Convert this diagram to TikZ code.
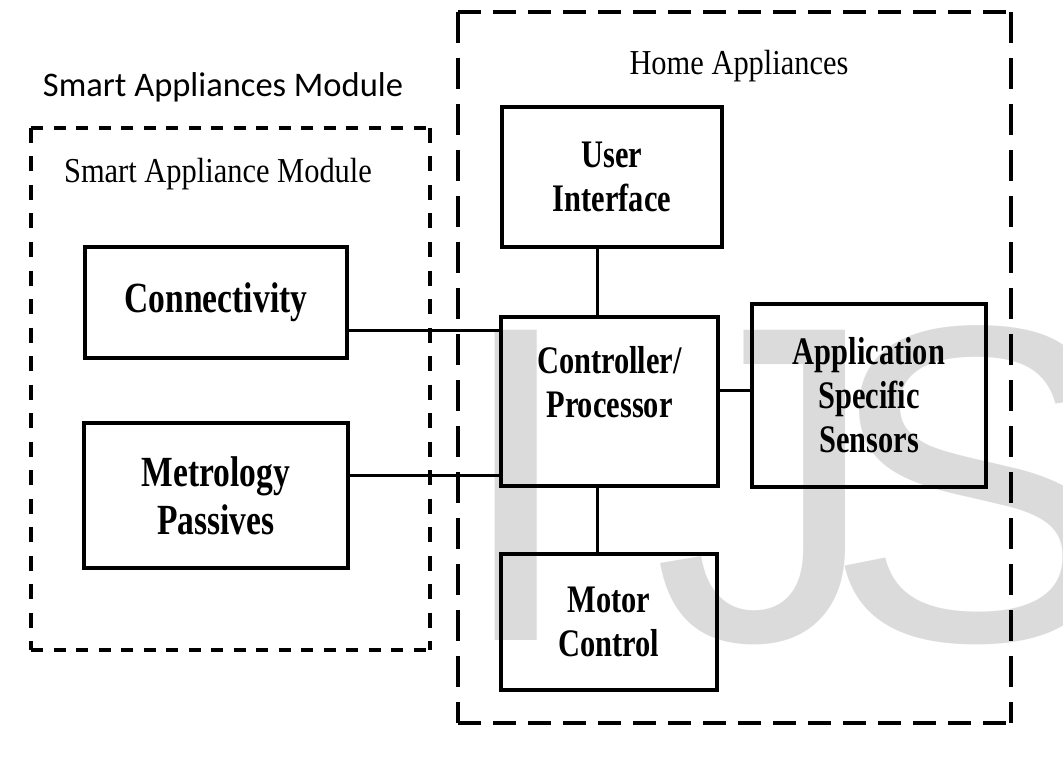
\documentclass[tikz,border=0pt]{standalone}
\usepackage{fontspec}
\usetikzlibrary{positioning}
\newfontfamily\labelfont{Liberation Serif}[FakeStretch=0.87]
\newfontfamily\boxfont{Liberation Serif}[FakeStretch=0.78]
\newfontfamily\titlefont{Carlito}
\newfontfamily\markfont{Liberation Sans}
\definecolor{markgray}{gray}{0.86}

\def\bigtxt{\fontsize{43}{48}\selectfont}
\def\midtxt{\fontsize{39}{44}\selectfont}

\tikzstyle{cbox}   = [draw, line width=3.5pt, inner sep=0pt, align=center, font=\boxfont\bfseries\midtxt]
\tikzstyle{cbig}   = [cbox, font=\boxfont\bfseries\bigtxt]
\tikzstyle{ctext}  = [inner sep=0pt, align=center, font=\boxfont\bfseries\midtxt]
\tikzstyle{clabel} = [inner sep=0pt, font=\labelfont\fontsize{35}{40}\selectfont]
\tikzstyle{cframe} = [inner sep=0pt, outer sep=0pt]
\tikzstyle{cline}  = [line width=3pt]
\tikzstyle{lefth}  = [line width=4pt, dash pattern=on 12pt off 10.5pt]
\tikzstyle{leftv}  = [line width=4pt, dash pattern=on 15pt off 13.5pt]
\tikzstyle{righth} = [line width=4pt, dash pattern=on 23pt off 12pt]
\tikzstyle{rightv} = [line width=4pt, dash pattern=on 31pt off 15pt]

\begin{document}
\begin{tikzpicture}[x=1pt, y=-1pt]
    \useasboundingbox (0,0) rectangle (1063,762);
    \clip (0,0) rectangle (1063,762);
    \node[inner sep=0pt, anchor=base west, text=markgray, font=\markfont\fontsize{451}{451}\selectfont] (mark) at (453,640) {I\kern75pt J\kern-55pt S};

    \node[cframe, minimum width=399pt, minimum height=522pt] (smod) at (230.5,389) {};
    \node[cframe, minimum width=553pt, minimum height=711pt] (home) at (734.5,367.5) {};
    \draw[lefth]  (smod.north west) -- (smod.north east) (smod.south west) -- (smod.south east);
    \draw[leftv]  (smod.north west) -- (smod.south west) (smod.north east) -- (smod.south east);
    \draw[righth] (home.north west) -- (home.north east) (home.south west) -- (home.south east);
    \draw[rightv] (home.north west) -- (home.south west) (home.north east) -- (home.south east);

    \node[inner sep=0pt, anchor=base, font=\titlefont\fontsize{34.5}{40}\selectfont] (title) at (223,97) {Smart Appliances Module};
    \node[clabel, anchor=base] (smodlbl) at (218,183) {Smart Appliance Module};
    \node[clabel, anchor=base] (homelbl) at (739,75) {Home Appliances};

    \node[cbig, minimum width=262pt, minimum height=111pt] (conn) at (216,302.5) {Connectivity};
    \node[cbig, minimum width=264pt, minimum height=145pt] (met) at (216,495.5) {Metrology\\Passives};
    \node[cbox, minimum width=220pt, minimum height=140pt] (ui) at (612,177) {User\\Interface};
    \node[cbox, minimum width=217pt, minimum height=169pt] (ctrl) at (609.5,401.5) {};
    \node[ctext, below=31pt of ctrl.north] (ctrllbl) {Controller/\\Processor};
    \node[cbox, minimum width=216pt, minimum height=136pt] (motor) at (609,622) {Motor\\Control};
    \node[cbox, minimum width=234pt, minimum height=183pt] (ass) at (869,395.5) {Application\\Specific\\Sensors};

    \draw[cline] ([yshift=-27.5pt]conn.east) -- ([yshift=-27.5pt]conn.east -| ctrl.west);
    \draw[cline] ([yshift=20.5pt]met.east) -- ([yshift=20.5pt]met.east -| ctrl.west);
    \draw[cline] ([xshift=-15pt]ui.south) -- ([xshift=-15pt]ui.south |- ctrl.north);
    \draw[cline] ([xshift=-12.5pt]ctrl.south) -- ([xshift=-12.5pt]ctrl.south |- motor.north);
    \draw[cline] ([yshift=11.5pt]ctrl.east) -- ([yshift=11.5pt]ctrl.east -| ass.west);
\end{tikzpicture}
\end{document}
